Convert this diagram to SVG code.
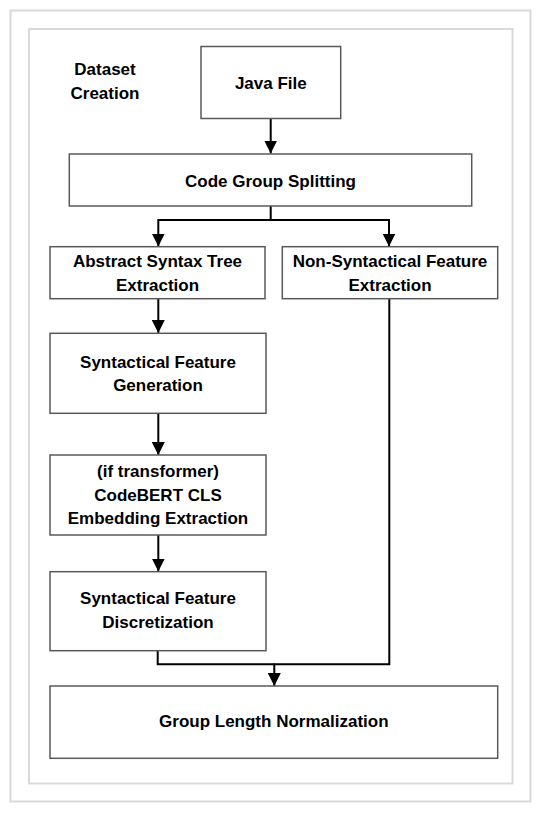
<svg xmlns="http://www.w3.org/2000/svg" width="541" height="813" viewBox="0 0 541 813">
  <defs>
    <marker id="arr" markerWidth="13" markerHeight="13" refX="13" refY="6.5" orient="auto" markerUnits="userSpaceOnUse">
      <path d="M0,0 L13,6.5 L0,13 Z" fill="#000"/>
    </marker>
    <style>
      .frame { fill: none; stroke: #d9d9d9; stroke-width: 2; }
      .box { fill: #fff; stroke: #595959; stroke-width: 1.5; }
      .lbl { font-family: "Liberation Sans", Arial, sans-serif; font-weight: bold; font-size: 17px; fill: #000; text-anchor: middle; }
      .conn { fill: none; stroke: #000; stroke-width: 2; }
    </style>
  </defs>
  <rect width="541" height="813" fill="#fff"/>
  <rect class="frame" x="10.5" y="10.5" width="520" height="791"/>
  <rect class="frame" x="29" y="29" width="483.5" height="754.5"/>

  <g id="title">
    <text class="lbl" x="105" y="75">Dataset</text>
    <text class="lbl" x="105" y="99">Creation</text>
  </g>

  <g id="connectors">
    <path class="conn" d="M270.7,118.5 V153.5" marker-end="url(#arr)"/>
    <path class="conn" d="M270.7,206 V220 H158.3 V246.5" marker-end="url(#arr)"/>
    <path class="conn" d="M270.7,220 H389 V246.5" marker-end="url(#arr)"/>
    <path class="conn" d="M158.3,299 V333" marker-end="url(#arr)"/>
    <path class="conn" d="M158.3,413.5 V455" marker-end="url(#arr)"/>
    <path class="conn" d="M158.3,535 V571.5" marker-end="url(#arr)"/>
    <path class="conn" d="M157.7,651 V664.3 H274.3"/>
    <path class="conn" d="M389.3,298.5 V664.3 H274.3 V686" marker-end="url(#arr)"/>
  </g>

  <g id="java-file">
    <rect class="box" x="201" y="46.5" width="139.7" height="72"/>
    <text class="lbl" x="270.8" y="89.3">Java File</text>
  </g>

  <g id="code-group-splitting">
    <rect class="box" x="69.3" y="154" width="402.4" height="52"/>
    <text class="lbl" x="270.5" y="186.7">Code Group Splitting</text>
  </g>

  <g id="ast-extraction">
    <rect class="box" x="50" y="246.7" width="215" height="52"/>
    <text class="lbl" x="157.5" y="266.7">Abstract Syntax Tree</text>
    <text class="lbl" x="157.5" y="290.7">Extraction</text>
  </g>

  <g id="non-syntactical">
    <rect class="box" x="282.3" y="246.7" width="215.4" height="52"/>
    <text class="lbl" x="390" y="266.7">Non-Syntactical Feature</text>
    <text class="lbl" x="390" y="290.7">Extraction</text>
  </g>

  <g id="syntactical-generation">
    <rect class="box" x="50" y="333.3" width="216" height="80"/>
    <text class="lbl" x="158" y="367.7">Syntactical Feature</text>
    <text class="lbl" x="158" y="391">Generation</text>
  </g>

  <g id="codebert">
    <rect class="box" x="50" y="455" width="216" height="80"/>
    <text class="lbl" x="158" y="476.7">(if transformer)</text>
    <text class="lbl" x="158" y="500.7">CodeBERT CLS</text>
    <text class="lbl" x="158" y="524.3">Embedding Extraction</text>
  </g>

  <g id="discretization">
    <rect class="box" x="50" y="571.7" width="216" height="79"/>
    <text class="lbl" x="158" y="604.3">Syntactical Feature</text>
    <text class="lbl" x="158" y="628.3">Discretization</text>
  </g>

  <g id="group-length-normalization">
    <rect class="box" x="50" y="686" width="447.7" height="72.3"/>
    <text class="lbl" x="273.8" y="726.7">Group Length Normalization</text>
  </g>
</svg>
